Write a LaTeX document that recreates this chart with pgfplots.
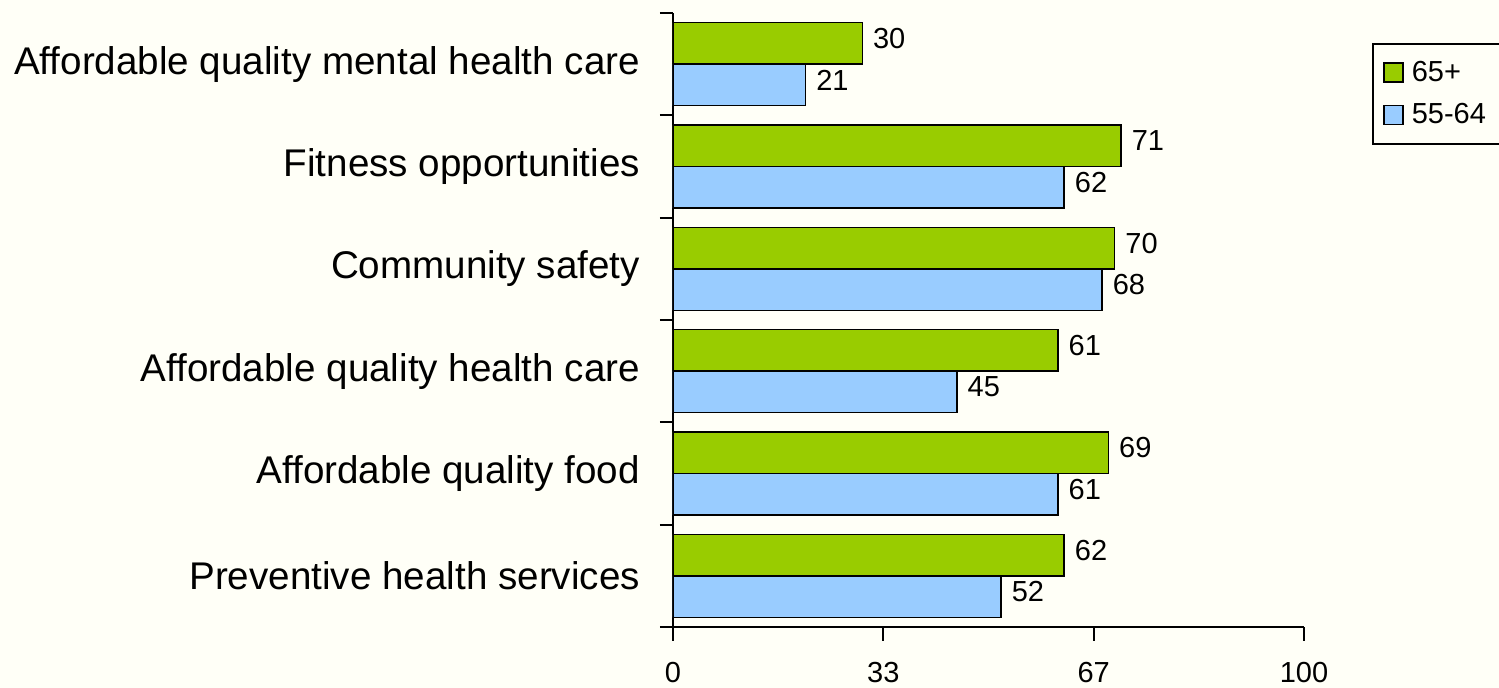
\documentclass[border=0pt]{standalone}
\usepackage{pgfplots}
\pgfplotsset{compat=1.18}
\usepackage{fontspec}
\setmainfont{Liberation Sans}
\definecolor{bgc}{RGB}{255,255,247}
\definecolor{grn}{RGB}{153,204,0}
\definecolor{blu}{RGB}{153,204,255}
\begin{document}
\begin{tikzpicture}
\fill[bgc] (-336.5pt,-30.5pt) rectangle (413pt,313.5pt);
\useasboundingbox (-336.5pt,-30.5pt) rectangle (413pt,313.5pt);
\begin{axis}[
  at={(0,0)}, anchor=south west,
  scale only axis, width=315.5pt, height=307pt,
  xbar, bar width=20.75pt,
  xmin=0, xmax=100, ymin=-0.5, ymax=5.5,
  enlargelimits=false,
  axis x line*=bottom, axis y line*=left,
  axis line style={line width=1pt, -},
  tick align=outside,
  major tick length=7pt, minor tick length=6.5pt,
  every tick/.style={black, line width=1pt},
  xtick={0,33.3333,66.6667,100},
  xticklabels={0,33,67,100},
  xticklabel style={font=\fontsize{14.5}{16}\selectfont, yshift=-7pt},
  ytick={0,...,5},
  yticklabels={Preventive health services,Affordable quality food,Affordable quality health care,Community safety,Fitness opportunities,Affordable quality mental health care},
  yticklabel style={font=\fontsize{19.3}{22}\selectfont, anchor=east, xshift=-6pt},
  major y tick style={draw=none},
  minor ytick={-0.5,0.5,...,5.5},
  /pgf/number format/assume math mode=true,
  nodes near coords,
  nodes near coords style={font=\fontsize{14.5}{16}\selectfont, anchor=west, inner sep=0pt, xshift=5pt, yshift=2.5pt, black},
  legend style={at={(axis description cs:1.1078,0.951)}, anchor=north west, draw=black, line width=1pt, fill=bgc,
    font=\fontsize{14.5}{16}\selectfont, row sep=5.5pt, inner xsep=5pt, inner ysep=6.5pt},
  legend cell align=left,
  legend image code/.code={\draw[#1, line width=0.75pt] (0pt,-4.75pt) rectangle (9.5pt,4.75pt); \path[draw=none,fill=none] (9.5pt,0pt) -- (12pt,0pt);},
]
\addplot[fill=grn, draw=black, line width=0.75pt, bar shift=10.375pt] coordinates {(62,0) (69,1) (61,2) (70,3) (71,4) (30,5)};
\addplot[fill=blu, draw=black, line width=0.75pt, bar shift=-10.375pt] coordinates {(52,0) (61,1) (45,2) (68,3) (62,4) (21,5)};
\legend{65+,55-64}
\end{axis}
\end{tikzpicture}
\end{document}
